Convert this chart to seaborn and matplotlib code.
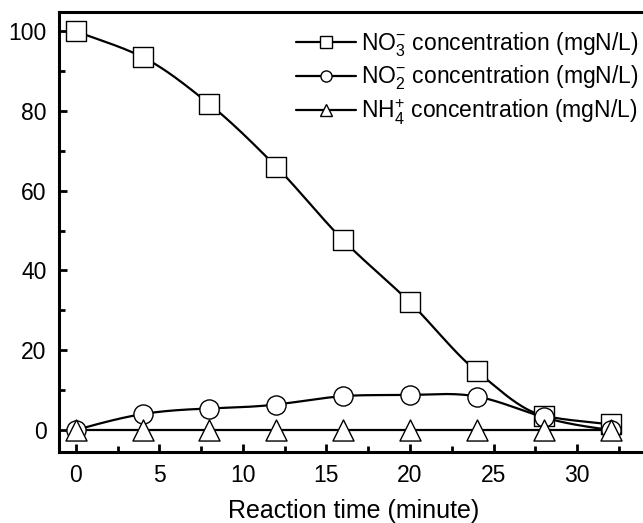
import numpy as np
import pandas as pd
import matplotlib
matplotlib.use("Agg")
import matplotlib.pyplot as plt
from matplotlib.lines import Line2D
from matplotlib.ticker import MultipleLocator
import seaborn as sns

time_min = [0, 4, 8, 12, 16, 20, 24, 28, 32]
no3 = [100, 93.5, 81.7, 66.0, 47.6, 32.0, 14.7, 3.6, 1.4]
no2 = [0, 4.0, 5.4, 6.4, 8.5, 8.8, 8.4, 3.2, 0]
nh4 = [0, 0, 0, 0, 0, 0, 0, 0, 0]
labels = [r"NO$_3^{-}$ concentration (mgN/L)",
          r"NO$_2^{-}$ concentration (mgN/L)",
          r"NH$_4^{+}$ concentration (mgN/L)"]
markers = ["s", "o", "^"]


def natural_spline(x, y, n=400):
    x = np.asarray(x, float); y = np.asarray(y, float)
    k = len(x); h = np.diff(x)
    A = np.zeros((k, k)); b = np.zeros(k)
    A[0, 0] = A[-1, -1] = 1
    for i in range(1, k - 1):
        A[i, i - 1] = h[i - 1]; A[i, i] = 2 * (h[i - 1] + h[i]); A[i, i + 1] = h[i]
        b[i] = 3 * ((y[i + 1] - y[i]) / h[i] - (y[i] - y[i - 1]) / h[i - 1])
    c = np.linalg.solve(A, b)
    xs = np.linspace(x[0], x[-1], n); ys = np.empty_like(xs)
    for j, xv in enumerate(xs):
        i = min(np.searchsorted(x, xv, side="right") - 1, k - 2)
        d = (c[i + 1] - c[i]) / (3 * h[i])
        bb = (y[i + 1] - y[i]) / h[i] - h[i] * (2 * c[i] + c[i + 1]) / 3
        t = xv - x[i]
        ys[j] = y[i] + bb * t + c[i] * t ** 2 + d * t ** 3
    return xs, ys


def pchip(x, y, n=400):
    x = np.asarray(x, float); y = np.asarray(y, float)
    h = np.diff(x); delta = np.diff(y) / h
    k = len(x); dd = np.zeros(k)
    for i in range(1, k - 1):
        if delta[i - 1] * delta[i] > 0:
            w1 = 2 * h[i] + h[i - 1]; w2 = h[i] + 2 * h[i - 1]
            dd[i] = (w1 + w2) / (w1 / delta[i - 1] + w2 / delta[i])
    dd[0] = delta[0]; dd[-1] = delta[-1]
    xs = np.linspace(x[0], x[-1], n); ys = np.empty_like(xs)
    for j, xv in enumerate(xs):
        i = min(np.searchsorted(x, xv, side="right") - 1, k - 2)
        t = (xv - x[i]) / h[i]
        h00 = 2 * t**3 - 3 * t**2 + 1; h10 = t**3 - 2 * t**2 + t
        h01 = -2 * t**3 + 3 * t**2; h11 = t**3 - t**2
        ys[j] = h00 * y[i] + h10 * h[i] * dd[i] + h01 * y[i + 1] + h11 * h[i] * dd[i + 1]
    return xs, ys


sns.set_style("ticks")
plt.rcParams["font.family"] = ["Liberation Sans", "DejaVu Sans"]
plt.rcParams["mathtext.fontset"] = "custom"
plt.rcParams["mathtext.rm"] = "Liberation Sans"
plt.rcParams["mathtext.it"] = "Liberation Sans"
for key in ["text.color", "axes.labelcolor", "xtick.color", "ytick.color", "axes.edgecolor"]:
    plt.rcParams[key] = "black"

fig = plt.figure(figsize=(6.43, 5.23), dpi=100)
ax = fig.add_axes([0.0918, 0.1358, 0.915, 0.8412])

series = [no3, no2, nh4]
interp = [pchip, natural_spline, natural_spline]
handles = []
for vals, m, lab, f in zip(series, markers, labels, interp):
    xs, ys = f(time_min, vals)
    sns.lineplot(x=xs, y=ys, ax=ax, color="black", linewidth=1.6, zorder=2)
    df = pd.DataFrame({"t": time_min, "v": vals})
    sns.scatterplot(data=df, x="t", y="v", ax=ax, marker=m, s=190 if m != "^" else 230,
                    facecolor="white", edgecolor="black", linewidth=1.0, zorder=3, legend=False)
    handles.append(Line2D([0], [0], color="black", linewidth=1.6, marker=m,
                          markersize=8, markerfacecolor="white", markeredgecolor="black",
                          markeredgewidth=1.0))

ax.set_xlim(-1, 34.2)
ax.set_ylim(-5.5, 104.8)
ax.xaxis.set_major_locator(MultipleLocator(5))
ax.xaxis.set_minor_locator(MultipleLocator(2.5))
ax.yaxis.set_major_locator(MultipleLocator(20))
ax.yaxis.set_minor_locator(MultipleLocator(10))
ax.tick_params(which="both", direction="in", width=2, labelsize=16.5, top=False, right=False,
               colors="black")
ax.tick_params(which="major", length=6, pad=9)
ax.tick_params(which="minor", length=4)
for s in ax.spines.values():
    s.set_linewidth(2.2)
    s.set_color("black")
ax.set_xlabel("Reaction time (minute)", fontsize=18, labelpad=8, color="black")
ax.set_ylabel("")

ax.legend(handles, labels, loc="upper right", bbox_to_anchor=(1.008, 0.99), frameon=False,
          fontsize=16.5, handlelength=2.6, handletextpad=0.2, labelspacing=0.22,
          borderaxespad=0.2, labelcolor="black")

fig.savefig("out.png", dpi=100)
